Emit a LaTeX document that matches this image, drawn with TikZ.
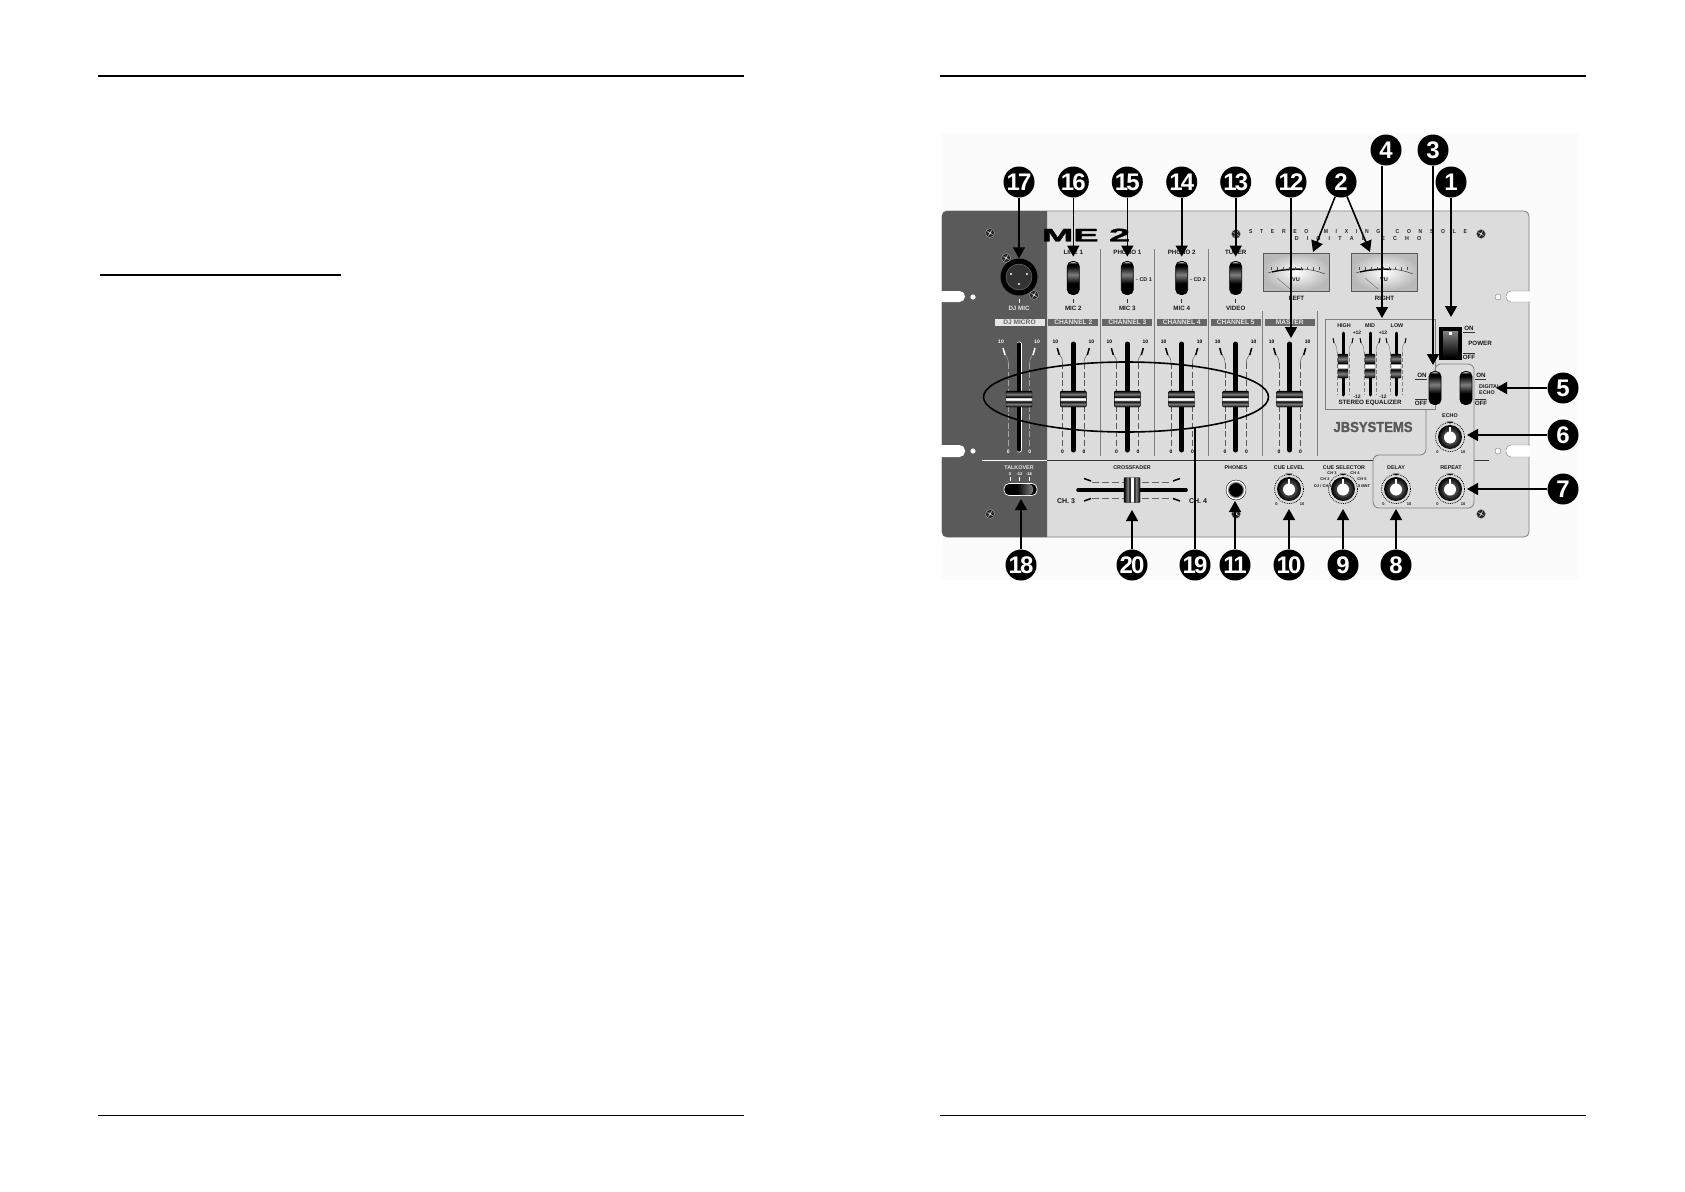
\documentclass[tikz,border=0pt]{standalone}
\usepackage{fontspec}
\setmainfont{Liberation Sans}
\newfontfamily\widefont[LetterSpace=125]{Liberation Sans}
\newfontfamily\badgefont[LetterSpace=-8]{Liberation Sans}
\newfontfamily\logofont[UprightFont=* Bold, FakeBold=1.5]{Liberation Sans}
\usepackage{tikz}
\usetikzlibrary{shapes}
\usetikzlibrary{positioning}
\usetikzlibrary{arrows.meta}

\definecolor{panelgray}{HTML}{DCDCDC}
\definecolor{paneldark}{HTML}{5A5A5A}
\definecolor{bargray}{HTML}{666666}
\definecolor{rulegray}{HTML}{808080}

\pgfdeclareverticalshading{swshade}{100bp}{color(0bp)=(black); color(25bp)=(black); color(42bp)=(black); color(55bp)=(gray); color(68bp)=(black); color(72bp)=(black); color(75bp)=(white); color(100bp)=(white)}
\pgfdeclareverticalshading{capshade}{100bp}{color(0bp)=(black); color(25bp)=(black); color(34bp)=(gray); color(43bp)=(black); color(47bp)=(white); color(53bp)=(white); color(56bp)=(black); color(65bp)=(gray); color(75bp)=(black); color(100bp)=(black)}
\pgfdeclarehorizontalshading{xcapshade}{100bp}{color(0bp)=(black); color(25bp)=(black); color(37bp)=(gray); color(43bp)=(black); color(47bp)=(white); color(53bp)=(white); color(56bp)=(black); color(63bp)=(gray); color(75bp)=(black); color(100bp)=(black)}

\tikzset{
    badge/.style={circle, fill=black, text=white, minimum size=31pt, inner sep=0pt, font=\fontsize{24}{24}\selectfont\bfseries\badgefont},
    arr/.style={line width=1.6pt, -{Triangle[length=11pt,width=12pt]}},
    lbl/.style={inner sep=0pt, text=black!90, font=\fontsize{6.2}{6.5}\selectfont\bfseries},
    rowlbl/.style={inner sep=0pt, text=black!90, font=\fontsize{5.4}{5.5}\selectfont\bfseries},
    tiny/.style={inner sep=0pt, text=black!90, font=\fontsize{5}{5}\selectfont\bfseries},
    wee/.style={inner sep=0pt, text=black!90, font=\fontsize{4}{4}\selectfont\bfseries},
    chanbar/.style={minimum width=50pt, minimum height=7pt, inner sep=0pt, fill=bargray, text=white!90!black, font=\fontsize{6.6}{6.6}\selectfont\bfseries},
    togglesw/.style={draw=black, line width=0.8pt, rounded corners=5pt, minimum width=12pt, minimum height=33pt, inner sep=0pt, shading=swshade},
    fadercap/.style={draw=black, line width=0.4pt, rounded corners=1pt, inner sep=0pt, shading=capshade},
    screw/.style={circle, fill=black!85, draw=gray!70, minimum size=9pt, inner sep=0pt},
    knobring/.style={circle, draw=black, densely dotted, line width=0.8pt, minimum size=29pt, inner sep=0pt},
    knobcap/.style={circle, inner color=gray!80, outer color=black, minimum size=24pt, inner sep=0pt},
    knobspot/.style={circle, fill=white, minimum size=12pt, inner sep=0pt},
    meter/.style={draw=black!65, line width=1pt, minimum width=66pt, minimum height=38pt, inner sep=0pt, inner color=white, outer color=gray!55},
    smallrule/.style={line width=0.9pt, black!80},
}

\begin{document}
\begin{tikzpicture}[x=1pt, y=-1pt]
    \useasboundingbox (0,0) rectangle (1685,1191);

    % page rules
    \draw[line width=2pt] (98,76) -- (744,76);
    \draw[line width=2pt] (940,76) -- (1586,76);
    \draw[line width=2pt] (100,275) -- (341,275);
    \draw[line width=1pt] (98,1115) -- (744,1115);
    \draw[line width=1pt] (940,1115) -- (1586,1115);

    % panel
    \fill[black!1.5] (942,133) rectangle (1578,580);
    \draw[fill=panelgray, draw=rulegray, line width=0.8pt, rounded corners=5pt] (942,211) rectangle (1529,537);
    \fill[paneldark] (1047,211) [rounded corners=5pt] -- (942,211) -- (942,537) [sharp corners] -- (1047,537) -- cycle;
    \fill[white, rounded corners=5.5pt] (936,291) rectangle (965,302);
    \fill[white, rounded corners=5.5pt] (936,445) rectangle (965,457);
    \fill[white] (973,297) circle (2.6);
    \fill[white] (973,451) circle (2.6);
    \draw[fill=white, draw=rulegray, rounded corners=5pt] (1529,291) -- (1506,291) -- (1506,302) -- (1529,302);
    \draw[fill=white, draw=rulegray, rounded corners=5pt] (1529,445) -- (1506,445) -- (1506,457) -- (1529,457);
    \draw[white, line width=1.2pt] (1529,291.6) -- (1529,301.4);
    \draw[white, line width=1.2pt] (1529,445.6) -- (1529,456.4);
    \draw[fill=white, draw=rulegray] (1498,297) circle (3);
    \draw[fill=white, draw=rulegray] (1498,451) circle (3);

    % dividers
    \draw[white, line width=1pt] (982,460) -- (1047,460);
    \draw[black!80, line width=1pt] (1047,460) -- (1373,460);
    \draw[black!80, line width=1pt] (1474,460) -- (1489,460);
    \foreach \dx in {1100,1154,1208}
        \draw[rulegray, line width=0.8pt] (\dx,249) -- (\dx,456);
    \foreach \dx in {1262,1317}
        \draw[rulegray, line width=0.8pt] (\dx,311) -- (\dx,456);

    % title
    \node (logo)[inner sep=0pt, xscale=2.1, font=\fontsize{18}{18}\selectfont\logofont] at (1086,235) {ME 2};
    \node (title)[inner sep=0pt, xscale=0.87, font=\fontsize{5.8}{5.8}\selectfont\bfseries\widefont, text=black!85] at (1358,232) {S T E R E O\ \ M I X I N G\ \ C O N S O L E};
    \node (subtitle)[inner sep=0pt, xscale=0.92, font=\fontsize{5.8}{5.8}\selectfont\bfseries\widefont, text=black!85] at (1358,238.5) {D I G I T A L\ \ E C H O};

    % mic socket
    \node (xlr)[circle, fill=black, minimum size=37pt, inner sep=0pt] at (1019,277) {};
    \node (xlrin)[circle, draw=gray, fill=black!80, minimum size=26pt, inner sep=0pt] at (1019,277) {};
    \fill[white] (1011,274) circle (1.2) (1027,274) circle (1.2) (1019,284) circle (1.2);
    \draw[white, line width=0.8pt] (1019,299) -- (1019,303);
    \node (djmic)[lbl, text=white!90!black] at (1019,308) {DJ MIC};
    \node (barDj)[chanbar, fill=white!90!black, text=bargray] at (1019.5,322) {DJ MICRO};

    % screws
    \foreach \sx/\sy [count=\si] in {990/233,1006/258,1034/295,990/514,1236/234,1236/514,1481/234,1481/514}{
        \node (screw\si)[screw] at (\sx,\sy) {};
        \draw[white, line width=0.5pt] (\sx-2.5,\sy-1.5) -- (\sx+2.5,\sy+1.5) (\sx+1.5,\sy-2.5) -- (\sx-1.5,\sy+2.5);
    }

    % channel selectors
    \node (swA)[togglesw] at (1073.3,278) {};
    \node (swB)[togglesw] at (1127.3,278) {};
    \node (swC)[togglesw] at (1181.7,278) {};
    \node (swD)[togglesw] at (1235.7,278) {};
    \node (lineA)[lbl] at (1073.3,252) {LINE 1};
    \node (lineB)[lbl] at (1127.3,252) {PHONO 1};
    \node (lineC)[lbl] at (1181.7,252) {PHONO 2};
    \node (lineD)[lbl] at (1235.7,252) {TUNER};
    \node (micA)[lbl] at (1073.3,308) {MIC 2};
    \node (micB)[lbl] at (1127.3,308) {MIC 3};
    \node (micC)[lbl] at (1181.7,308) {MIC 4};
    \node (micD)[lbl] at (1235.7,308) {VIDEO};
    \node (cdB)[rowlbl] at (1144,280) {- CD 1};
    \node (cdC)[rowlbl] at (1198,280) {- CD 2};
    \foreach \cx in {1073.3,1127.3,1181.7,1235.7}
        \draw[black!80, line width=0.8pt] (\cx,299) -- (\cx,303);
    \node (barA)[chanbar] at (1073.3,322) {CHANNEL 2};
    \node (barB)[chanbar] at (1127.3,322) {CHANNEL 3};
    \node (barC)[chanbar] at (1181.7,322) {CHANNEL 4};
    \node (barD)[chanbar] at (1235.7,322) {CHANNEL 5};
    \node (barM)[chanbar] at (1289.7,322) {MASTER};

    % channel faders
    \foreach \cx/\cc [count=\ci] in {1019/white,1073.3/black,1127.3/black,1181.7/black,1235.7/black,1289.7/black}{
        \draw[\cc, line width=5pt, line cap=round] (\cx,344) -- (\cx,450);
        \draw[black, line width=3.4pt, line cap=round] (\cx,344) -- (\cx,450);
        \draw[\cc!30!gray, line width=0.7pt, dash pattern=on 6pt off 2.5pt] (\cx-10.7,363) -- (\cx-10.7,448) (\cx+10.7,363) -- (\cx+10.7,448);
        \draw[\cc!30!gray, line width=0.5pt] (\cx-10.7,363) .. controls (\cx-10.7,358) and (\cx-12,358) .. (\cx-14,354) (\cx+10.7,363) .. controls (\cx+10.7,358) and (\cx+12,358) .. (\cx+14,354);
        \draw[\cc, line width=1.5pt] (\cx-14,355) -- (\cx-16,348) (\cx+14,355) -- (\cx+16,348);
        \node (topL\ci)[tiny, text=\cc] at (\cx-18,342) {10};
        \node (topR\ci)[tiny, text=\cc] at (\cx+18,342) {10};
        \node (botL\ci)[tiny, text=\cc] at (\cx-10.7,452) {0};
        \node (botR\ci)[tiny, text=\cc] at (\cx+10.7,452) {0};
        \node (cap\ci)[fadercap, minimum width=26pt, minimum height=16pt] at (\cx,399) {};
    }

    % vu meters
    \foreach \mx/\mt [count=\mi] in {1263/LEFT,1351/RIGHT}{
        \node (vu\mi)[meter] at (\mx+33.5,272) {};
        \draw[black!80, line width=0.5pt] (\mx+5,273) .. controls (\mx+22,267) and (\mx+45,267) .. (\mx+62,274);
        \draw[black, line width=1.2pt] (\mx+9,272) .. controls (\mx+18,270) and (\mx+28,269) .. (\mx+40,269.5);
        \foreach \tk in {8,14,20,26,32,38,44,50,56}
            \draw[black!70, line width=0.4pt] (\mx+\tk,266.5) -- (\mx+\tk,270);
        \draw[black!60, line width=0.4pt] (\mx+14,278) -- (\mx+27,289);
        \node (vuText\mi)[tiny, font=\fontsize{5.5}{5.5}\selectfont\bfseries] at (\mx+33,280) {VU};
        \node (vuLab\mi)[lbl] at (\mx+33.5,298) {\mt};
    }

    % equalizer
    \draw[rulegray, line width=0.8pt] (1325,319) rectangle (1435,409);
    \node (eqHigh)[rowlbl] at (1344,326) {HIGH};
    \node (eqMid)[rowlbl] at (1370,326) {MID};
    \node (eqLow)[rowlbl] at (1397,326) {LOW};
    \foreach \ex [count=\ei] in {1343,1370,1396}{
        \draw[black, line width=3pt, line cap=round] (\ex,333) -- (\ex,395);
        \draw[rulegray, line width=0.6pt, dash pattern=on 4pt off 2pt] (\ex-6,352) -- (\ex-6,395) (\ex+6,352) -- (\ex+6,395);
        \draw[rulegray, line width=0.5pt] (\ex-6,352) .. controls (\ex-6,345) and (\ex-8,345) .. (\ex-9,342) (\ex+6,352) .. controls (\ex+6,345) and (\ex+8,345) .. (\ex+9,342);
        \draw[black, line width=1pt] (\ex-9,343) -- (\ex-10,338) (\ex+9,343) -- (\ex+10,338);
        \node (eqCap\ei)[fadercap, minimum width=10pt, minimum height=24pt] at (\ex,366) {};
    }
    \node (eqP1)[tiny] at (1357,333) {+12};
    \node (eqP2)[tiny] at (1383,333) {+12};
    \node (eqM1)[tiny] at (1357,397) {-12};
    \node (eqM2)[tiny] at (1383,397) {-12};
    \node (eqText)[lbl] at (1370,403) {STEREO EQUALIZER};

    % echo section
    \draw[rulegray, line width=0.8pt, rounded corners=6pt] (1435,374) -- (1435,364) -- (1474,364) -- (1474,508) -- (1373,508) -- (1373,455) -- (1426,455) -- (1426,409);
    \node (swEq)[togglesw] at (1435,388) {};
    \node (swEcho)[togglesw] at (1466,388) {};
    \node (onEq)[lbl] at (1422,375) {ON};
    \node (offEq)[lbl] at (1421,403) {OFF};
    \node (onEcho)[lbl] at (1481,375) {ON};
    \node (offEcho)[lbl] at (1481,403) {OFF};
    \draw[smallrule] (1415,379.5) -- (1427,379.5);
    \draw[smallrule] (1415,399) -- (1427,399);
    \draw[smallrule] (1475,379.5) -- (1486,379.5);
    \draw[smallrule] (1475,399) -- (1486,399);
    \node (digital)[rowlbl, anchor=west] at (1479,387) {DIGITAL};
    \node (echoTxt)[rowlbl, anchor=west] at (1479,392.5) {ECHO};

    % power
    \node (powerSw)[fill=black, minimum width=23pt, minimum height=33pt, inner sep=0pt] at (1450.5,343) {};
    \node (powerIn)[top color=gray, bottom color=black, minimum width=15pt, minimum height=26pt, inner sep=0pt] at (1450.5,344) {};
    \fill[white] (1449,332) rectangle (1451.5,334.5);
    \node (powerOn)[lbl] at (1469,328) {ON};
    \node (powerOff)[lbl] at (1469,357) {OFF};
    \node (powerTxt)[lbl] at (1480,343) {POWER};
    \draw[smallrule] (1463,332) -- (1475,332);
    \draw[smallrule] (1463,353) -- (1475,353);

    \node (brand)[inner sep=0pt, text=black!65, xscale=0.9, font=\fontsize{14.5}{15}\selectfont\logofont] at (1373,427) {JBSYSTEMS};

    % knobs
    \foreach \kx/\ky/\kn in {1450/437/echo,1396/489/delay,1450/489/repeat,1289/489/cue,1343/489/sel}{
        \node (ring\kn)[knobring] at (\kx,\ky) {};
        \node (knob\kn)[knobcap] at (\kx,\ky) {};
        \node (spot\kn)[knobspot] at (\kx,\ky+0.5) {};
        \draw[white, line width=1.6pt] (\kx,\ky) -- (\kx,\ky-10);
        \fill[black] (\kx-3.5,\ky-15.5) -- (\kx+3.5,\ky-15.5) -- (\kx,\ky-13.5) -- cycle;
    }
    \foreach \kx/\ky/\kn in {1450/437/echo,1396/489/delay,1450/489/repeat,1289/489/cue}{
        \node (zero\kn)[wee] at (\kx-12.5,\ky+15) {0};
        \node (ten\kn)[wee] at (\kx+13,\ky+15) {10};
    }
    \node (echoLab)[rowlbl] at (1450,416) {ECHO};
    \node (delayLab)[rowlbl] at (1396,468) {DELAY};
    \node (repeatLab)[rowlbl] at (1451,468) {REPEAT};
    \node (cueLab)[rowlbl] at (1289,468) {CUE LEVEL};
    \node (selLab)[rowlbl] at (1344,468) {CUE SELECTOR};
    \node (selC)[wee] at (1332,473.5) {CH 3};
    \node (selD)[wee] at (1355,473.5) {CH 4};
    \node (selB)[wee] at (1325,479) {CH 2};
    \node (selE)[wee] at (1362,479) {CH 5};
    \node (selA)[wee] at (1323,486) {DJ / CH.1};
    \node (selF)[wee] at (1364,486) {5 MNT};

    % talkover
    \node (talkLab)[rowlbl, text=white!90!black] at (1019,468) {TALKOVER};
    \node (talkA)[wee, text=white] at (1010,474) {0};
    \node (talkB)[wee, text=white] at (1019.5,474) {-12};
    \node (talkC)[wee, text=white] at (1029,474) {-18};
    \foreach \tx in {1010,1019.5,1029}
        \draw[white, line width=1pt] (\tx,477) -- (\tx,480.5);
    \node (talkSw)[draw=white, fill=black, line width=0.7pt, rounded corners=5pt, minimum width=33pt, minimum height=12pt, inner sep=0pt] at (1020.5,489.5) {};
    \node (talkKnob)[left color=black, right color=gray, rounded corners=4pt, minimum width=16pt, minimum height=11pt, inner sep=0pt] at (1025,489.5) {};

    % crossfader
    \node (crossLab)[rowlbl] at (1132,468) {CROSSFADER};
    \draw[black, line width=3.6pt, line cap=round] (1078,490) -- (1186,490);
    \draw[black!60, line width=0.6pt, dash pattern=on 7pt off 3pt] (1092,482) -- (1172,482);
    \draw[black!60, line width=0.6pt, dash pattern=on 7pt off 3pt] (1092,498) -- (1172,498);
    \draw[black, line width=1.5pt] (1084,478.5) -- (1091,481);
    \draw[black, line width=1.5pt] (1180,478.5) -- (1173,481);
    \draw[black, line width=1.5pt] (1084,501) -- (1091,498.5);
    \draw[black, line width=1.5pt] (1180,501) -- (1173,498.5);
    \node (crossCap)[draw=black, line width=0.4pt, rounded corners=1pt, inner sep=0pt, shading=xcapshade, minimum width=16pt, minimum height=25pt] at (1132,490) {};
    \node (ch3)[lbl, font=\fontsize{7}{7}\selectfont\bfseries] at (1066,501) {CH. 3};
    \node (ch4)[lbl, font=\fontsize{7}{7}\selectfont\bfseries] at (1198,501) {CH. 4};

    % phones
    \node (phonesLab)[rowlbl] at (1236,468) {PHONES};
    \node (jack)[circle, draw=black, fill=white, minimum size=20pt, inner sep=0pt] at (1236,490) {};
    \node (jackIn)[circle, fill=black, draw=gray, line width=1pt, minimum size=15pt, inner sep=0pt] at (1236,490) {};

    % callouts
    \node (ringFaders)[draw, ellipse, line width=1.6pt, minimum width=285pt, minimum height=70pt, inner sep=0pt] at (1126,397) {};

    \node (n1)[badge] at (1451,182) {1};
    \node (n2)[badge] at (1341,182) {2};
    \node (n3)[badge] at (1433,150) {3};
    \node (n4)[badge] at (1386,150) {4};
    \node (n5)[badge] at (1563,388) {5};
    \node (n6)[badge] at (1563,435) {6};
    \node (n7)[badge] at (1563,489) {7};
    \node (n8)[badge] at (1396,565) {8};
    \node (n9)[badge] at (1343,565) {9};
    \node (n10)[badge] at (1289,565) {10};
    \node (n11)[badge] at (1235,565) {11};
    \node (n12)[badge] at (1291,182) {12};
    \node (n13)[badge] at (1235.7,182) {13};
    \node (n14)[badge] at (1181.7,182) {14};
    \node (n15)[badge] at (1127.3,182) {15};
    \node (n16)[badge] at (1073.3,182) {16};
    \node (n17)[badge] at (1019,182) {17};
    \node (n18)[badge] at (1021,565) {18};
    \node (n19)[badge] at (1195,565) {19};
    \node (n20)[badge] at (1132,565) {20};

    \coordinate (tipA) at (1451,317);
    \coordinate (tipB) at (1313,252);
    \coordinate (tipC) at (1370,252);
    \coordinate (tipD) at (1433,365);
    \coordinate (tipE) at (1382,318);
    \coordinate (tipF) at (1496,388);
    \coordinate (tipG) at (1467,435);
    \coordinate (tipH) at (1467,489);
    \coordinate (tipI) at (1396,509);
    \coordinate (tipJ) at (1343,509);
    \coordinate (tipK) at (1289,509);
    \coordinate (tipL) at (1235,501);
    \coordinate (tipM) at (1291,338);
    \coordinate (tipN) at (1132,510);
    \coordinate (tipO) at (1021,499);
    \coordinate (tipP) at (1195,428);

    \draw[arr] (n1) -- (tipA);
    \draw[arr] (n2) -- (tipB);
    \draw[arr] (n2) -- (tipC);
    \draw[arr] (n3) -- (tipD);
    \draw[arr] (n4.south -| tipE) -- (tipE);
    \draw[arr] (n5) -- (tipF);
    \draw[arr] (n6) -- (tipG);
    \draw[arr] (n7) -- (tipH);
    \draw[arr] (n8) -- (tipI);
    \draw[arr] (n9) -- (tipJ);
    \draw[arr] (n10) -- (tipK);
    \draw[arr] (n11) -- (tipL);
    \draw[arr] (n12) -- (tipM);
    \draw[arr, shorten >=4.5pt] (n13) -- (swD.north);
    \draw[arr, shorten >=4.5pt] (n14) -- (swC.north);
    \draw[arr, shorten >=4.5pt] (n15) -- (swB.north);
    \draw[arr, shorten >=4.5pt] (n16) -- (swA.north);
    \draw[arr] (n17) -- (xlr.north);
    \draw[arr] (n18) -- (tipO);
    \draw[line width=1.6pt] (n19) -- (tipP);
    \draw[arr] (n20) -- (tipN);
\end{tikzpicture}
\end{document}
